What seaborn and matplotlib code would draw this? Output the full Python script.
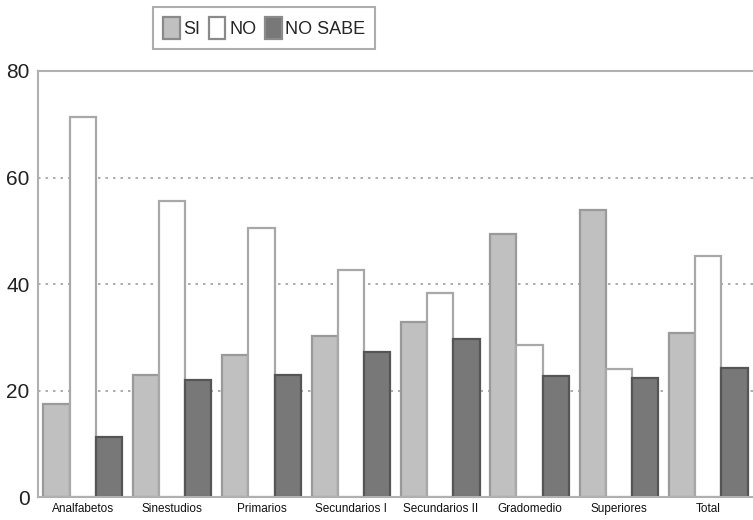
import matplotlib
matplotlib.use("Agg")
import matplotlib.pyplot as plt
import seaborn as sns
import pandas as pd

categories = ["Analfabetos", "Sinestudios", "Primarios", "Secundarios I",
              "Secundarios II", "Gradomedio", "Superiores", "Total"]
series = ["SI", "NO", "NO SABE"]
si_vals = [17.5, 22.9, 26.7, 30.2, 32.9, 49.4, 53.9, 30.8]
no_vals = [71.4, 55.6, 50.5, 42.6, 38.3, 28.5, 24.0, 45.3]
ns_vals = [11.3, 22.0, 22.9, 27.2, 29.7, 22.7, 22.3, 24.2]
yticks = [0, 20, 40, 60, 80]

rows = []
for name, vals in zip(series, [si_vals, no_vals, ns_vals]):
    for c, v in zip(categories, vals):
        rows.append({"cat": c, "serie": name, "val": v})
df = pd.DataFrame(rows)

sns.set_theme(style="white")
plt.rcParams['font.family'] = ['Liberation Sans', 'DejaVu Sans']

fig = plt.figure(figsize=(7.53, 5.20), dpi=100)
ax = fig.add_axes([0.0505, 0.044, 0.9495, 0.8195])

palette = {"SI": "#c0c0c0", "NO": "#ffffff", "NO SABE": "#787878"}
sns.barplot(data=df, x="cat", y="val", hue="serie", order=categories,
            hue_order=series, palette=palette, width=0.88, ax=ax,
            edgecolor="#8a8a8a", linewidth=1.6, saturation=1, legend=True)

edge = {"SI": "#9a9a9a", "NO": "#a8a8a8", "NO SABE": "#555555"}
for cont, s in zip(ax.containers, series):
    for p in cont.patches:
        p.set_edgecolor(edge[s])

ax.set_xlim(-0.5, 7.5)
ax.set_ylim(0, 80)
ax.set_yticks(yticks)
ax.set_yticklabels([str(t) for t in yticks], fontsize=15, color="#222222")
ax.tick_params(axis="y", length=0, pad=6)
ax.tick_params(axis="x", length=0, pad=4, labelsize=8.5, colors="#111111")
ax.set_xlabel("")
ax.set_ylabel("")
for y in [20, 40, 60]:
    ax.axhline(y, color="#a0a0a0", linestyle=(0, (1.5, 3)), linewidth=1.2, zorder=0)
ax.set_axisbelow(True)
for side in ["top", "left", "bottom"]:
    ax.spines[side].set_color("#b0b0b0")
    ax.spines[side].set_linewidth(1.5)
ax.spines["right"].set_visible(False)

handles, labels = ax.get_legend_handles_labels()
ax.legend_.remove()
leg = fig.legend(handles, labels, loc="center", bbox_to_anchor=(0.351, 0.946),
                 ncol=3, fontsize=13, frameon=True, fancybox=False,
                 handlelength=0.9, handleheight=1.5, handletextpad=0.2,
                 columnspacing=0.5, borderpad=0.55, edgecolor="#999999")
leg.get_frame().set_linewidth(1.5)

fig.savefig("out.png", dpi=100)
